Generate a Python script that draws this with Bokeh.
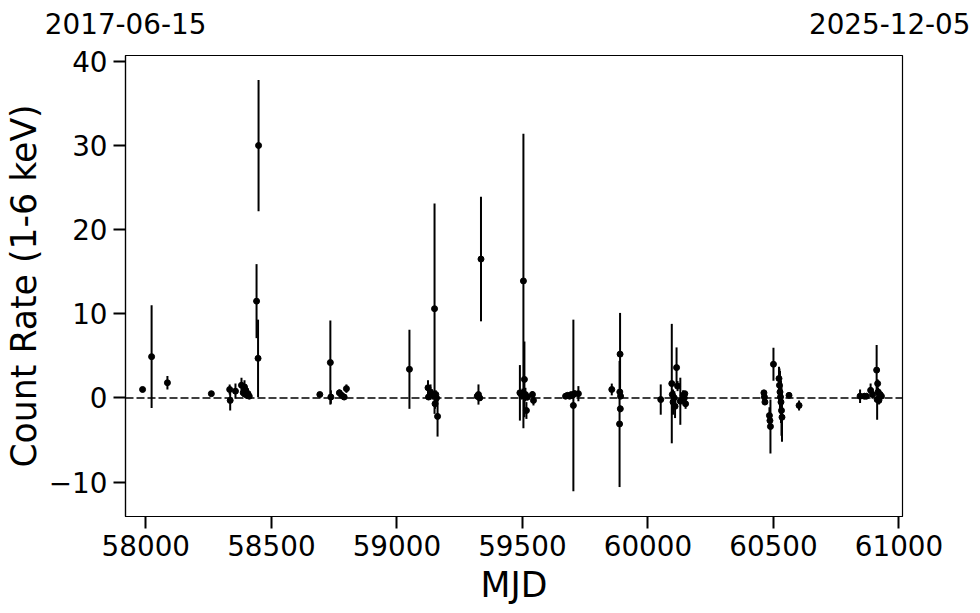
from bokeh.plotting import figure
from bokeh.models import ColumnDataSource, Range1d, FixedTicker, Span, LinearAxis
from bokeh.embed import file_html
from bokeh.resources import INLINE

mjd = [57987, 58023, 58086, 58261, 58334, 58336, 58357, 58381, 58388, 58393,
       58398, 58402, 58407, 58412, 58441, 58447, 58449,
       58693, 58735, 58737, 58771, 58780, 58790, 58799,
       59050, 59124, 59126, 59134, 59143, 59150, 59152, 59155, 59158, 59162,
       59320, 59325, 59330, 59335,
       59490, 59497, 59500, 59504, 59508, 59512, 59516, 59520, 59540, 59544,
       59672, 59680, 59688, 59695, 59700, 59703, 59708, 59723,
       59856, 59887, 59888, 59889, 59890, 59891,
       60051, 60095, 60097, 60100, 60105, 60108, 60114, 60118, 60129, 60140, 60145, 60147, 60150,
       60462, 60464, 60466, 60484, 60486, 60488, 60500,
       60522, 60524, 60526, 60528, 60530, 60532, 60534, 60562, 60602,
       60845, 60862, 60870, 60887, 60895, 60911, 60913, 60915, 60917, 60920, 60925, 60930]
rate = [1.0, 4.9, 1.8, 0.5, 1.0, -0.3, 0.8, 1.5, 0.6, 1.3,
        0.9, 0.3, 0.5, 0.2, 11.5, 4.7, 30.0,
        0.4, 4.2, 0.1, 0.6, 0.3, 0.1, 1.1,
        3.4, 1.2, 0.1, 0.7, 0.3, 10.6, -0.7, 0.4, 0.0, -2.2,
        0.2, 0.4, 0.0, 16.5,
        0.6, 0.3, 0.5, 13.9, 2.2, 0.4, -1.5, 0.1, 0.4, -0.3,
        0.2, 0.3, 0.2, 0.4, 0.3, -0.9, 0.5, 0.5,
        1.0, -3.1, 0.7, 5.2, -1.3, 0.2,
        -0.2, 1.7, 0.4, -0.5, 0.0, -1.0, 3.6, 1.4, -0.4, 0.3, 0.0, 0.5, -0.7,
        0.6, 0.1, -0.5, -2.1, -2.7, -3.4, 4.0,
        2.3, 1.5, 0.7, 0.1, -0.5, -1.5, -2.3, 0.3, -0.9,
        0.2, 0.2, 0.2, 0.9, 0.4, 3.3, -0.2, 1.7, 0.7, -0.3, 0.4, 0.2]
err = [0.3, 6.1, 0.8, 0.15, 0.6, 1.2, 0.9, 0.9, 0.5, 0.8,
       0.7, 0.4, 0.6, 0.3, 4.4, 4.6, 7.8,
       0.15, 5.0, 0.8, 0.4, 0.3, 0.3, 0.5,
       4.7, 0.9, 0.3, 0.9, 0.5, 12.5, 0.6, 0.5, 0.4, 2.4,
       0.4, 1.2, 0.3, 7.4,
       3.3, 0.5, 0.6, 17.5, 4.5, 0.8, 1.0, 0.4, 0.4, 0.6,
       0.2, 0.3, 0.2, 0.3, 0.3, 10.2, 0.4, 0.9,
       0.7, 7.5, 0.3, 4.9, 0.4, 0.3,
       1.8, 7.1, 0.5, 1.5, 0.8, 1.4, 2.4, 0.6, 2.8, 0.6, 0.5, 0.3, 0.6,
       0.3, 0.3, 0.3, 1.0, 1.0, 3.2, 1.95,
       1.4, 2.0, 2.5, 2.0, 2.5, 3.0, 2.9, 0.3, 0.6,
       0.8, 0.3, 0.3, 0.8, 0.5, 3.0, 2.4, 0.5, 0.5, 0.5, 0.5, 0.3]

x_ticks = [58000, 58500, 59000, 59500, 60000, 60500, 61000]
y_ticks = [-10, 0, 10, 20, 30, 40]
date_labels = ["2017-06-15", "2025-12-05"]
date_label_pos = [57919.5, 60986]
mjd_start, mjd_end = 57919, 61014

src = ColumnDataSource(dict(
    x=mjd, y=rate,
    lo=[r - e for r, e in zip(rate, err)],
    hi=[r + e for r, e in zip(rate, err)],
))

FONT = "DejaVu Sans"

p = figure(frame_width=777, frame_height=461, output_backend="svg", toolbar_location=None,
           x_range=Range1d(mjd_start, mjd_end), y_range=Range1d(-14.1, 40.7),
           min_border_left=119, min_border_top=55, min_border_right=68, min_border_bottom=80)
p.background_fill_color = "white"
p.border_fill_color = "white"
p.outline_line_color = "black"
p.outline_line_width = 1.2
p.xgrid.visible = False
p.ygrid.visible = False

p.segment(x0="x", y0="lo", x1="x", y1="hi", source=src, line_color="black", line_width=2)
p.scatter(x="x", y="y", source=src, size=6, marker="circle", fill_color="black", line_color="black")

p.add_layout(Span(location=0, dimension="width", line_color="black", line_dash="8 3", line_width=1.5))

for ax in (p.xaxis[0], p.yaxis[0]):
    ax.axis_line_color = "black"
    ax.axis_line_width = 1.2
    ax.major_tick_out = 12
    ax.major_tick_in = 0
    ax.major_tick_line_width = 2
    ax.minor_tick_line_color = None
    ax.major_label_text_font = FONT
    ax.major_label_text_font_size = "27.8px"
    ax.major_label_text_color = "black"
    ax.axis_label_text_font = FONT
    ax.axis_label_text_font_size = "34.7px"
    ax.axis_label_text_font_style = "normal"
    ax.axis_label_text_color = "black"
    ax.major_label_standoff = 6

p.xaxis.ticker = FixedTicker(ticks=x_ticks)
p.yaxis.ticker = FixedTicker(ticks=y_ticks)
p.xaxis.major_label_overrides = {t: str(t) for t in x_ticks}
p.yaxis.major_label_overrides = {t: (str(t).replace("-", "\u2212")) for t in y_ticks}
p.xaxis.axis_label = "MJD"
p.yaxis.axis_label = "Count Rate (1-6 keV)"
p.xaxis.axis_label_standoff = 6
p.yaxis.axis_label_standoff = 2

top = LinearAxis(ticker=FixedTicker(ticks=date_label_pos),
                 major_label_overrides={t: s for t, s in zip(date_label_pos, date_labels)})
top.axis_line_color = None
top.major_tick_line_color = None
top.minor_tick_line_color = None
top.major_tick_out = 0
top.major_label_standoff = 22
top.major_label_text_font = FONT
top.major_label_text_font_size = "27.8px"
top.major_label_text_color = "black"
p.add_layout(top, "above")

open("out.html", "w").write(file_html(p, INLINE))
